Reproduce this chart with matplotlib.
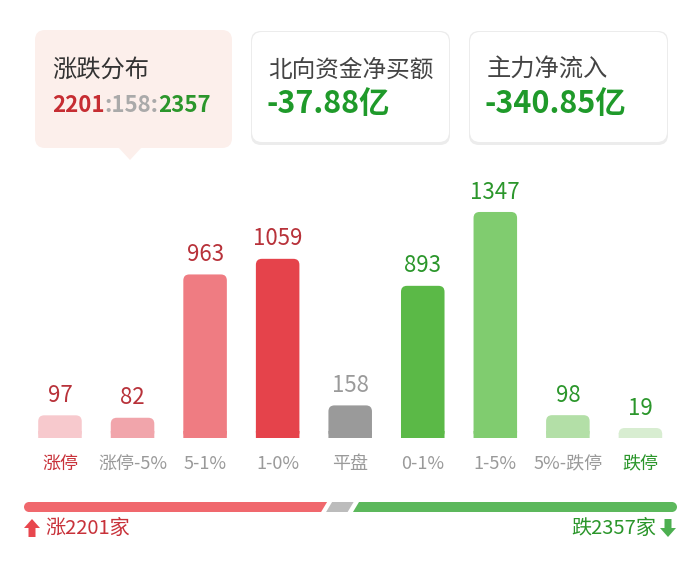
import matplotlib.pyplot as plt
from matplotlib.patches import FancyBboxPatch, Polygon, Rectangle, Circle

plt.rcParams['font.family'] = ['Noto Sans CJK SC', 'DejaVu Sans']

# 数据
categories = ["涨停", "涨停-5%", "5-1%", "1-0%", "平盘", "0-1%", "1-5%", "5%-跌停", "跌停"]
counts = [97, 82, 963, 1059, 158, 893, 1347, 98, 19]
bar_colors = ["#f7c9cd", "#f1a5ab", "#ef7c82", "#e5434b", "#9a9a9a",
              "#5bb947", "#80cc6f", "#b3dfa7", "#d8edd1"]
value_colors = ["#b8323a"] * 4 + ["#9a9a9a"] + ["#2b962b"] * 4
label_colors = ["#c8323a"] + ["#9a9a9a"] * 7 + ["#2b962b"]

up_count, flat_count, down_count = 2201, 158, 2357
north_flow = "-37.88亿"
main_flow = "-340.85亿"

RED = "#c62d32"
GREEN = "#1f9a2a"

fig = plt.figure(figsize=(7, 5.67), dpi=100)
fig.patch.set_facecolor("white")

# 整张图的像素坐标层，用来画卡片和文字
bg = fig.add_axes([0, 0, 1, 1])
bg.set_xlim(0, 700)
bg.set_ylim(567, 0)
bg.axis("off")

# 卡片
card1 = FancyBboxPatch((35, 30), 197, 118, boxstyle="round,pad=0,rounding_size=10",
                       fc="#fcefeb", ec="none", zorder=1)
bg.add_patch(card1)
bg.add_patch(Polygon([(118, 147), (142, 147), (130, 160)], closed=True,
                     fc="#fcefeb", ec="none", zorder=1))
for x0 in (252, 470):
    bg.add_patch(FancyBboxPatch((x0 - 1, 31), 199, 114, boxstyle="round,pad=0,rounding_size=10",
                                fc="#ececec", ec="none", zorder=1))
    bg.add_patch(FancyBboxPatch((x0, 32), 197, 110, boxstyle="round,pad=0,rounding_size=10",
                                fc="white", ec="none", zorder=2))

bg.text(52, 70, "涨跌分布", fontsize=17.5, color="#333333", va="center", zorder=3)
bg.text(268, 70, "北向资金净买额", fontsize=17, color="#444444", va="center", zorder=3)
bg.text(487, 70, "主力净流入", fontsize=17.5, color="#444444", va="center", zorder=3)

t1 = bg.text(52, 106, str(up_count), fontsize=16, fontweight="bold", color=RED,
             va="center", zorder=3)
t2 = bg.annotate(":" + str(flat_count) + ":", xy=(1, 0), xycoords=t1, va="bottom",
                 fontsize=16, fontweight="bold", color="#aaaaaa", zorder=3)
bg.annotate(str(down_count), xy=(1, 0), xycoords=t2, va="bottom",
            fontsize=16, fontweight="bold", color="#2b962b", zorder=3)

bg.text(266, 104, north_flow, fontsize=22, fontweight="bold", color=GREEN, va="center", zorder=3)
bg.text(485, 104, main_flow, fontsize=22, fontweight="bold", color=GREEN, va="center", zorder=3)

# 柱状图
offset = 42.4  # 小柱子也有最低高度
ax = fig.add_axes([23.7 / 700, (567 - 438) / 567, 653 / 700, 268 / 567])
ax.set_xlim(-0.5, 8.5)
ax.set_ylim(-offset, 1605)
ax.axis("off")

bars = ax.bar(range(len(counts)), [c + offset for c in counts], bottom=-offset,
              width=0.6, color=bar_colors)
x_per_px = 9 / 653
y_per_px = (1605 + offset) / 268
r = 6 * x_per_px
for b, col in zip(bars, bar_colors):
    x, y, w, h = b.get_x(), b.get_y(), b.get_width(), b.get_height()
    b.set_visible(False)
    ax.add_patch(FancyBboxPatch((x, y), w, h, boxstyle=f"round,pad=0,rounding_size={r}",
                                mutation_aspect=y_per_px / x_per_px, fc=col, ec="none",
                                snap=False))
    ax.add_patch(Rectangle((x, y), w, min(h / 2, 7 * y_per_px), fc=col, ec="none", snap=False))

for i, v in enumerate(counts):
    ax.annotate(str(v), (i, v), xytext=(0, 6), textcoords="offset points",
                ha="center", va="bottom", fontsize=16, color=value_colors[i])
    ax.annotate(categories[i], (i, -offset), xytext=(0, -19), textcoords="offset points",
                ha="center", va="center", fontsize=13, color=label_colors[i])

# 底部比例条
left, right, gap, ybar, th = 24, 677, 5, 507, 10
total = up_count + flat_count + down_count
scale = (right - left - 2 * gap) / total
x1 = left + up_count * scale
x2 = x1 + gap + flat_count * scale
s = 3  # 斜切
bg.add_patch(Polygon([(left + th / 2, ybar - th / 2), (x1 + s, ybar - th / 2),
                      (x1 - s, ybar + th / 2), (left + th / 2, ybar + th / 2)],
                     fc="#f0686d", ec="none"))
bg.add_patch(Circle((left + th / 2, ybar), th / 2, fc="#f0686d", ec="none"))
bg.add_patch(Polygon([(x1 + gap + s, ybar - th / 2), (x2 + s, ybar - th / 2),
                      (x2 - s, ybar + th / 2), (x1 + gap - s, ybar + th / 2)],
                     fc="#bcbcbc", ec="none"))
bg.add_patch(Polygon([(x2 + gap + s, ybar - th / 2), (right - th / 2, ybar - th / 2),
                      (right - th / 2, ybar + th / 2), (x2 + gap - s, ybar + th / 2)],
                     fc="#5cb85c", ec="none"))
bg.add_patch(Circle((right - th / 2, ybar), th / 2, fc="#5cb85c", ec="none"))

# 箭头
bg.add_patch(Polygon([(32, 519), (40, 528), (35.5, 528), (35.5, 537), (28.5, 537), (28.5, 528), (24, 528)],
                     fc="#e8474e", ec="none"))
bg.add_patch(Polygon([(668, 537), (676, 528), (671.5, 528), (671.5, 519), (664.5, 519), (664.5, 528), (660, 528)],
                     fc="#4caf50", ec="none"))
bg.text(45, 528, f"涨{up_count}家", fontsize=14.5, color="#c8323a", va="center")
bg.text(656, 528, f"跌{down_count}家", fontsize=14.5, color="#2b962b", va="center", ha="right")

fig.savefig("out.png", dpi=100, facecolor="white")
